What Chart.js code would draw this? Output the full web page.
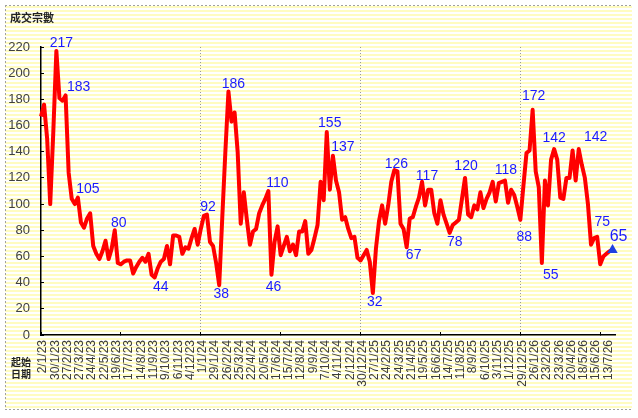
<!DOCTYPE html>
<html>
<head>
<meta charset="utf-8">
<script src="https://cdn.jsdelivr.net/npm/chart.js@4.4.1/dist/chart.umd.min.js"></script>
<style>
  html, body { margin: 0; padding: 0; background: #ffffff; }
  #wrap { position: relative; width: 638px; height: 418px; }
</style>
</head>
<body>
<div id="wrap"><canvas id="c" width="638" height="418"></canvas></div>
<script>
// ---------- data ----------
const yAxisTitle = '成交宗數';
const xAxisTitle = ['起始', '日期'];
const startDate = [2023, 0, 2];          // first week: 2/1/23
const weekCount = 188;                   // axis slots (data fills 0..186)
const weeklyDeals = [
  167,176,150,100,155,217,181,179,183,124,
  104,100,105,86,82,89,93,68,62,58,
  64,72,58,66,80,55,54,56,57,57,
  47,52,56,59,56,62,46,44,51,56,
  58,68,54,76,76,75,62,67,66,74,
  81,69,81,91,92,71,68,55,38,90,
  140,186,163,170,140,85,109,88,69,79,
  81,93,99,104,110,46,71,83,61,68,
  75,64,69,61,79,79,87,62,65,74,
  84,117,103,155,111,137,118,109,88,90,
  81,74,75,59,57,61,65,56,32,66,
  87,99,85,99,117,126,125,85,81,67,
  89,90,98,105,117,99,111,111,93,85,
  103,92,85,78,84,86,88,104,120,92,
  90,99,96,109,97,104,109,117,102,116,
  117,118,101,111,107,98,88,114,139,141,
  172,125,113,55,118,99,134,142,134,105,
  104,120,120,141,118,142,130,120,100,69,
  74,75,54,60,62,64,65
];
const annotatedIdx = [5,8,12,24,37,54,58,61,74,75,93,95,108,115,119,124,133,138,151,156,160,163,167,175,181,186];
const yTicks = [0,20,40,60,80,100,120,140,160,180,200,220];

// categories: weekly dates d/m/yy
const categories = [];
for (let i = 0; i < weekCount; i++) {
  const d = new Date(Date.UTC(startDate[0], startDate[1], startDate[2] + 7 * i));
  categories.push(d.getUTCDate() + '/' + (d.getUTCMonth() + 1) + '/' + String(d.getUTCFullYear()).slice(2));
}

// ---------- styling / placement (not data) ----------
const labelOffsets = {
  5:[5,-8], 8:[13,-8], 12:[10,-8], 24:[4,-7], 37:[6,10], 54:[1,-7], 58:[2,9],
  61:[5,-7], 74:[9,-8], 75:[2,12], 93:[3,-9], 95:[10,-9], 108:[2,9], 115:[2,-6],
  119:[7,8], 124:[5,-6], 133:[5,9], 138:[1,-12], 151:[1,-10], 156:[4,17],
  160:[1,-14], 163:[9,12], 167:[0,-11], 175:[17,-12], 181:[5,-15], 186:[6,-13]
};
const lastIdx = weeklyDeals.length - 1;

const backgroundPlugin = {
  id: 'bg',
  beforeDraw(chart) {
    const ctx = chart.ctx;
    ctx.save();
    ctx.fillStyle = '#ffffff';
    ctx.fillRect(0, 0, 638, 418);
    ctx.fillStyle = '#fffcc0';
    for (let y = 6; y < 409; y += 4) ctx.fillRect(5, y, 627, 2);
    ctx.strokeStyle = '#a0a0a0';
    ctx.lineWidth = 1;
    ctx.setLineDash([2, 2]);
    ctx.beginPath();
    ctx.moveTo(5, 5.5); ctx.lineTo(632, 5.5);
    ctx.moveTo(5.5, 5); ctx.lineTo(5.5, 410);
    ctx.moveTo(5, 409.5); ctx.lineTo(632, 409.5);
    ctx.stroke();
    ctx.restore();
  },
  afterDraw(chart) {
    const ctx = chart.ctx;
    ctx.save();
    ctx.fillStyle = '#222222';
    ctx.textBaseline = 'middle';
    ctx.textAlign = 'left';
    ctx.font = 'bold 11px "Noto Sans CJK TC", sans-serif';
    ctx.fillText(yAxisTitle, 10, 18);
    ctx.font = 'bold 10px "Noto Sans CJK TC", sans-serif';
    ctx.fillText(xAxisTitle[0], 11, 362);
    ctx.fillText(xAxisTitle[1], 11, 374);
    ctx.restore();
  }
};

const valueLabelPlugin = {
  id: 'valueLabels',
  afterDatasetsDraw(chart) {
    const ctx = chart.ctx;
    const meta = chart.getDatasetMeta(0);
    ctx.save();
    ctx.fillStyle = '#1a1aff';
    ctx.textAlign = 'center';
    ctx.textBaseline = 'middle';
    annotatedIdx.forEach(i => {
      const pt = meta.data[i];
      const off = labelOffsets[i] || [0, -10];
      ctx.font = (i === lastIdx ? '16px' : '14px') + ' "Liberation Sans", Arial, sans-serif';
      ctx.fillText(String(weeklyDeals[i]), pt.x + off[0], pt.y + off[1]);
    });
    ctx.restore();
  }
};

new Chart(document.getElementById('c'), {
  type: 'line',
  data: {
    labels: categories,
    datasets: [{
      data: weeklyDeals,
      borderColor: '#ff0000',
      borderWidth: 4,
      tension: 0,
      borderJoinStyle: 'round',
      pointRadius: ctx => ctx.dataIndex === lastIdx ? 6 : 0,
      pointStyle: 'triangle',
      pointBackgroundColor: '#1f3fe0',
      pointBorderColor: '#1f3fe0',
      pointBorderWidth: 0,
      fill: false,
      clip: false
    }]
  },
  options: {
    responsive: false,
    animation: false,
    events: [],
    layout: { padding: { left: 0, top: 47, right: 21, bottom: 0 } },
    plugins: { legend: { display: false }, tooltip: { enabled: false } },
    scales: {
      x: {
        type: 'category',
        offset: false,
        afterFit(s) { s.height = 83; },
        border: { display: true, color: '#000000', width: 1.5, dash: [1, 2] },
        grid: {
          drawOnChartArea: true,
          drawTicks: true,
          tickLength: -3,
          lineWidth: 1,
          color: c => (c.index === 52 || c.index === 104 || c.index === 156) ? '#9a9a9a' : 'rgba(0,0,0,0)',
          tickColor: c => (c.index % 26 === 0) ? '#000000' : 'rgba(0,0,0,0)',
          tickWidth: 1
        },
        ticks: {
          autoSkip: false,
          minRotation: 90,
          maxRotation: 90,
          padding: 8,
          labelOffset: 2,
          color: '#3c3c3c',
          font: { family: '"Liberation Sans", Arial, sans-serif', size: 12 },
          callback: (v, i) => (i % 4 === 0 && i <= lastIdx) ? categories[i] : ''
        }
      },
      y: {
        min: 0,
        max: 220,
        afterFit(s) { s.width = 41; },
        afterBuildTicks(s) { s.ticks = yTicks.map(v => ({ value: v })); },
        border: { display: true, color: '#000000', width: 1.5 },
        grid: {
          drawOnChartArea: false,
          drawTicks: true,
          tickLength: -3,
          tickColor: '#000000',
          tickWidth: 1
        },
        ticks: {
          padding: 14,
          color: '#404040',
          font: { family: '"Liberation Sans", Arial, sans-serif', size: 13 }
        }
      }
    }
  },
  plugins: [backgroundPlugin, valueLabelPlugin]
});
</script>
</body>
</html>
